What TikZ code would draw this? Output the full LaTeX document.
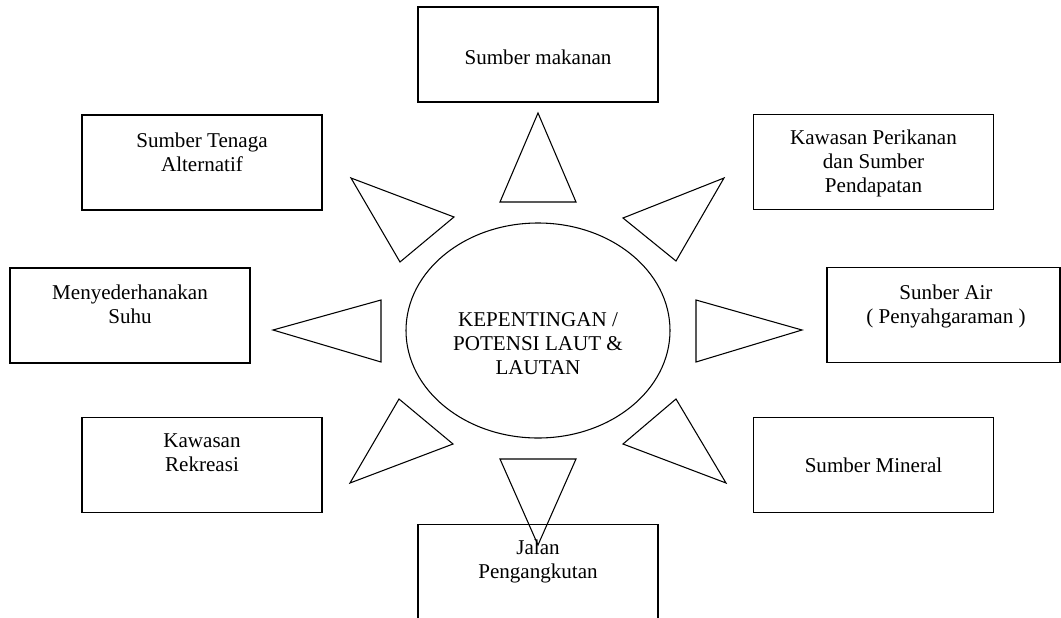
\documentclass[tikz,border=0pt]{standalone}
\usepackage{fontspec}
\setmainfont{Liberation Serif}
\usetikzlibrary{shapes,positioning}
\tikzset{
  box_n/.style = {draw, line width=1pt, rectangle, inner sep=0pt,
  minimum width=180pt, minimum height=71.25pt},
  txt_n/.style = {align=center, inner sep=0pt, font=\fontsize{15.8}{18}\selectfont},
  tri_n/.style = {draw, line width=0.8pt, line join=miter}
}

\begin{document}
\begin{tikzpicture}[x=0.75pt,y=-0.75pt]
  \clip (0,0) rectangle (1061,618);
  \fill[white] (0,0) rectangle (1061,618);
  % kotak sekeliling
  \node [box_n] (makanan) at (538,54.5) {};
  \node [box_n] (tenaga) at (202,162.5) {};
  \node [box_n] (suhu) at (130,315.5) {};
  \node [box_n] (rekreasi) at (202,465) {};
  \node [box_n] (perikanan) at (873.5,162) {};
  \node [box_n, minimum width=174.75pt] (air) at (943.5,315) {};
  \node [box_n] (mineral) at (873.5,465) {};
  \node [box_n] (jalan) at (538,572) {};
  % pusat
  \node [ellipse, draw, line width=0.8pt, inner sep=0pt,
         minimum width=198pt, minimum height=161.25pt] (pusat) at (538,330.5) {};
  \node [txt_n] (pusat_t) at (538,344) {KEPENTINGAN /\\POTENSI LAUT \&\\LAUTAN};
  % teks
  \node [txt_n] (makanan_t) at (538,57) {Sumber makanan};
  \node [txt_n] (tenaga_t) at (202,152) {Sumber Tenaga\\Alternatif};
  \node [txt_n] (suhu_t) at (130,304) {Menyederhanakan\\Suhu};
  \node [txt_n] (rekreasi_t) at (202,453) {Kawasan\\Rekreasi};
  \node [txt_n] (perikanan_t) at (873.5,163) {Kawasan Perikanan\\dan Sumber\\Pendapatan};
  \node [txt_n] (air_t) at (946,306) {Sunber Air\\( Penyahgaraman )};
  \node [txt_n] (mineral_t) at (873.5,465) {Sumber Mineral};
  \node [txt_n] (jalan_t) at (538,561) {Jalan\\Pengangkutan};
  % segitiga
  \draw [tri_n] (538,113) -- (576,202) -- (500,202) -- cycle;
  \draw [tri_n] (351,178) -- (454,217) -- (400,262) -- cycle;
  \draw [tri_n] (273,330) -- (381,300) -- (381,362) -- cycle;
  \draw [tri_n] (399,399) -- (453,444) -- (350,483) -- cycle;
  \draw [tri_n] (500,459) -- (576,459) -- (538,545) -- cycle;
  \draw [tri_n] (676,399) -- (623,444) -- (726,483) -- cycle;
  \draw [tri_n] (802,330) -- (696,300) -- (696,362) -- cycle;
  \draw [tri_n] (724,178) -- (623,218) -- (676,261) -- cycle;
\end{tikzpicture}
\end{document}
